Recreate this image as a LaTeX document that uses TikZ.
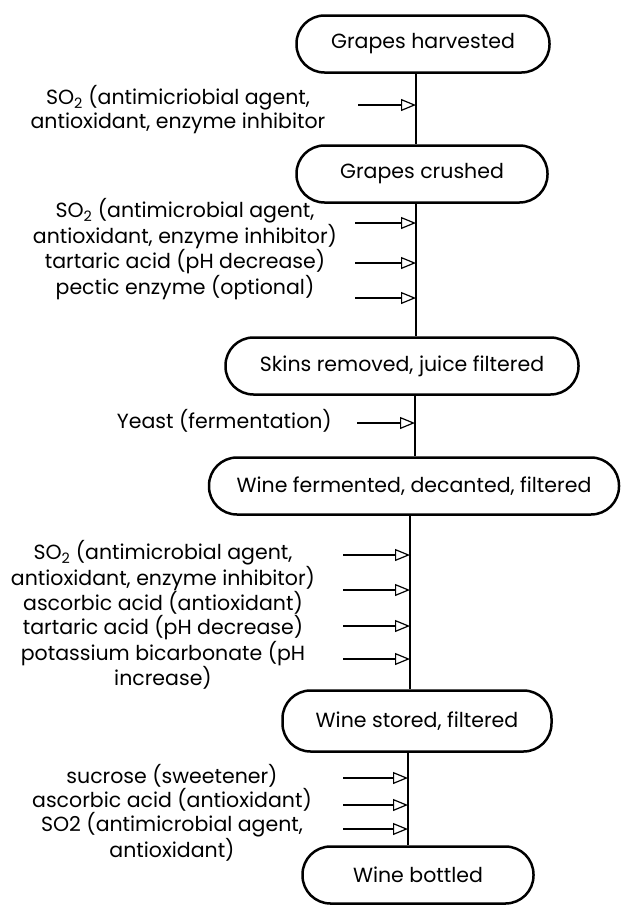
\documentclass[tikz,border=0pt]{standalone}
\usepackage{fontspec}
\setmainfont{Poppins}
\usetikzlibrary{arrows.meta}
\begin{document}
\begin{tikzpicture}[x=1pt,y=-1pt,
  stage/.style={draw,line width=2.5pt,rounded corners=28pt,inner sep=0pt,minimum height=57pt,font=\fontsize{20.5}{24}\selectfont},
  lbl/.style={align=center,inner sep=0pt,font=\fontsize{20.5}{24}\selectfont},
  feed/.style={line width=1.2pt,-{Triangle[open,length=15pt,width=12pt,line width=1.2pt]}},
  flow/.style={line width=2.3pt}]
\useasboundingbox (0,0) rectangle (625,905);
% stages
\node[stage,minimum width=253pt] (b1) at (423,44) {Grapes harvested};
\node[stage,minimum width=251pt] (b2) at (422,174) {Grapes crushed};
\node[stage,minimum width=353pt] (b3) at (402,366) {Skins removed, juice filtered};
\node[stage,minimum width=410pt] (b4) at (414,486) {Wine fermented, decanted, filtered};
\node[stage,minimum width=269pt,minimum height=61pt] (b5) at (417,721) {Wine stored, filtered};
\node[stage,minimum width=231pt] (b6) at (418,875) {Wine bottled};
% flow line
\draw[flow] (b1.south -| 416,0) -- (b2.north -| 416,0);
\draw[flow] (b2.south -| 416,0) -- (b3.north -| 416,0);
\draw[flow] (b3.south -| 415,0) -- (b4.north -| 415,0);
\draw[flow] (b4.south -| 410,0) -- (b5.north -| 410,0);
\draw[flow] (b5.south -| 408,0) -- (b6.north -| 408,0);
% labels
\node[lbl] (l1) at (178,110) {SO\textsubscript{2} (antimicriobial agent,\\antioxidant, enzyme inhibitor};
\node[lbl] (l2) at (185,249) {SO\textsubscript{2} (antimicrobial agent,\\antioxidant, enzyme inhibitor)\\tartaric acid (pH decrease)\\pectic enzyme (optional)};
\node[lbl,anchor=east] (l3) at (332,421) {Yeast (fermentation)};
\node[lbl] (l4) at (163,615) {SO\textsubscript{2} (antimicrobial agent,\\antioxidant, enzyme inhibitor)\\ascorbic acid (antioxidant)\\tartaric acid (pH decrease)\\potassium bicarbonate (pH\\increase)};
\node[lbl] (l5) at (172,813) {sucrose (sweetener)\\ascorbic acid (antioxidant)\\SO2 (antimicrobial agent,\\antioxidant)};
% feed arrows
\coordinate (f1s) at (358,105); \coordinate (f1e) at (416,105);
\coordinate (f2s) at (355,223); \coordinate (f2e) at (416,223);
\coordinate (f3s) at (355,263); \coordinate (f3e) at (416,263);
\coordinate (f4s) at (355,298); \coordinate (f4e) at (416,298);
\coordinate (f5s) at (357,423); \coordinate (f5e) at (415,423);
\coordinate (f6s) at (343,555); \coordinate (f6e) at (410,555);
\coordinate (f7s) at (343,590); \coordinate (f7e) at (410,590);
\coordinate (f8s) at (343,626); \coordinate (f8e) at (410,626);
\coordinate (f9s) at (343,659); \coordinate (f9e) at (410,659);
\coordinate (f10s) at (343,778); \coordinate (f10e) at (408,778);
\coordinate (f11s) at (343,805); \coordinate (f11e) at (408,805);
\coordinate (f12s) at (343,829); \coordinate (f12e) at (408,829);
\foreach \i in {1,...,12} {\draw[feed] (f\i s) -- (f\i e);}
\end{tikzpicture}
\end{document}
